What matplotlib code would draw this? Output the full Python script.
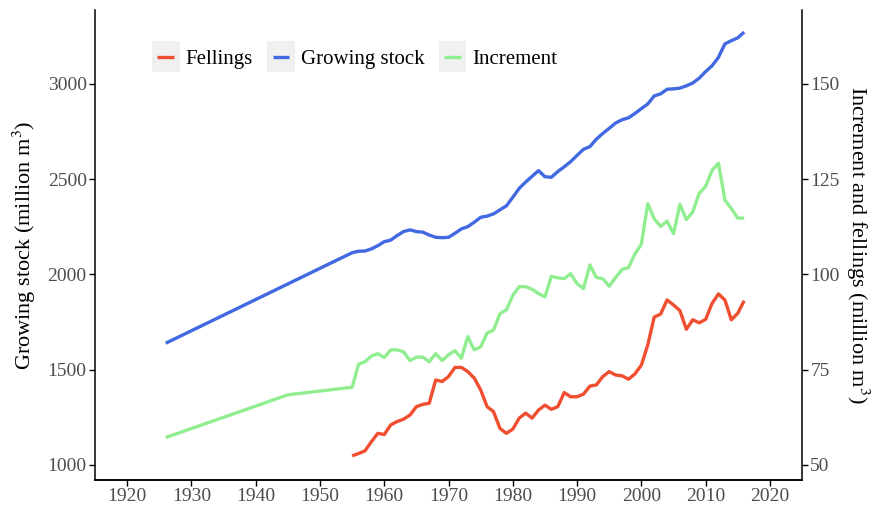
import matplotlib
matplotlib.use("Agg")
import matplotlib.pyplot as plt
from matplotlib.legend_handler import HandlerLine2D
from matplotlib.patches import Rectangle

plt.rcParams["font.family"] = ["Liberation Serif", "DejaVu Serif"]
plt.rcParams["mathtext.fontset"] = "stix"

# Growing stock (million m3), left axis
stock_years = [1926, 1955, 1956, 1957, 1958, 1959, 1960, 1961, 1962, 1963, 1964,
               1965, 1966, 1967, 1968, 1969, 1970, 1971, 1972, 1973, 1974, 1975,
               1976, 1977, 1978, 1979, 1980, 1981, 1982, 1983, 1984, 1985, 1986,
               1987, 1988, 1989, 1990, 1991, 1992, 1993, 1994, 1995, 1996, 1997,
               1998, 1999, 2000, 2001, 2002, 2003, 2004, 2005, 2006, 2007, 2008,
               2009, 2010, 2011, 2012, 2013, 2014, 2015, 2016]
stock = [1639, 2114, 2122, 2123, 2134, 2151, 2172, 2180, 2204, 2225, 2234,
         2225, 2222, 2207, 2195, 2193, 2195, 2216, 2239, 2251, 2274, 2300,
         2306, 2318, 2339, 2360, 2405, 2452, 2485, 2515, 2545, 2513, 2510,
         2540, 2565, 2592, 2625, 2657, 2671, 2710, 2740, 2767, 2795, 2812,
         2822, 2845, 2870, 2895, 2937, 2948, 2972, 2974, 2978, 2990, 3005,
         3030, 3065, 3095, 3140, 3210, 3227, 3242, 3272]

# Increment (million m3), right axis
incr_years = [1926, 1945, 1955, 1956, 1957, 1958, 1959, 1960, 1961, 1962, 1963,
              1964, 1965, 1966, 1967, 1968, 1969, 1970, 1971, 1972, 1973, 1974,
              1975, 1976, 1977, 1978, 1979, 1980, 1981, 1982, 1983, 1984, 1985,
              1986, 1987, 1988, 1989, 1990, 1991, 1992, 1993, 1994, 1995, 1996,
              1997, 1998, 1999, 2000, 2001, 2002, 2003, 2004, 2005, 2006, 2007,
              2008, 2009, 2010, 2011, 2012, 2013, 2014, 2015, 2016]
increment = [57.2, 68.4, 70.4, 76.4, 77.1, 78.6, 79.2, 78.2, 80.2, 80.2, 79.7,
             77.4, 78.3, 78.3, 77.1, 79.2, 77.4, 78.9, 80.0, 78.0, 83.7, 80.2,
             81.0, 84.6, 85.4, 89.7, 90.7, 94.5, 96.8, 96.8, 96.1, 95.0, 94.1,
             99.5, 99.1, 98.9, 100.2, 97.6, 96.3, 102.5, 99.2, 98.9, 96.9, 99.2,
             101.3, 101.8, 105.4, 107.9, 118.6, 114.6, 112.6, 114.0, 110.7, 118.4, 114.4,
             116.4, 121.3, 123.1, 127.3, 129.2, 119.5, 117.3, 114.8, 114.8]

# Fellings (million m3), right axis
fell_years = list(range(1955, 2017))
fellings = [52.4, 53.0, 53.7, 56.1, 58.3, 58.0, 60.5, 61.4, 62.0, 63.1,
            65.3, 65.9, 66.2, 72.3, 71.9, 73.2, 75.6, 75.6, 74.5, 72.8,
            69.7, 65.3, 64.0, 59.6, 58.3, 59.4, 62.3, 63.6, 62.3, 64.4,
            65.7, 64.6, 65.3, 69.0, 67.9, 67.9, 68.6, 70.7, 71.0, 73.2,
            74.5, 73.6, 73.4, 72.5, 73.9, 76.2, 81.5, 88.8, 89.6, 93.3,
            92.0, 90.5, 85.6, 88.1, 87.3, 88.2, 92.4, 94.9, 93.3, 88.1,
            89.8, 93.1]

red = "#F04E30"
blue = "#4169E1"
green = "#90EE90"


class KeyHandler(HandlerLine2D):
    # ggplot-like legend key: grey box behind the line
    def create_artists(self, legend, orig_handle, xdescent, ydescent,
                       width, height, fontsize, trans):
        box = Rectangle((-xdescent - 4, -ydescent - 6), width + 8, height + 12,
                        facecolor="#F0F0F0", edgecolor="none", transform=trans)
        artists = super().create_artists(legend, orig_handle, xdescent, ydescent,
                                         width, height, fontsize, trans)
        return [box] + artists


fig = plt.figure(figsize=(8.75, 5.08), dpi=100)
ax = fig.add_axes([0.1086, 0.0551, 0.8080, 0.9252])
ax2 = ax.twinx()

l_stock, = ax.plot(stock_years, stock, color=blue, lw=2.4, solid_capstyle="butt")
l_inc, = ax2.plot(incr_years, increment, color=green, lw=2.4, solid_capstyle="butt")
l_fell, = ax2.plot(fell_years, fellings, color=red, lw=2.4, solid_capstyle="butt")

ax.set_xlim(1915, 2025)
ax.set_ylim(921, 3388)
ax2.set_ylim(921 / 20, 3388 / 20)
ax.set_xticks(range(1920, 2021, 10))
ax.set_yticks(range(1000, 3001, 500))
ax2.set_yticks(range(50, 151, 25))

for a in (ax, ax2):
    for s in a.spines.values():
        s.set_linewidth(1.1)
    a.spines["top"].set_visible(False)
    a.tick_params(length=4, width=1.0, labelsize=14, labelcolor="#4D4D4D", pad=2)
ax.spines["right"].set_visible(False)
ax2.spines["left"].set_visible(False)

ax.set_ylabel("Growing stock (million m$^3$)", fontsize=16, labelpad=7)
ax2.set_ylabel("Increment and fellings (million m$^3$)", fontsize=16,
               rotation=270, labelpad=23)

ax.legend([l_fell, l_stock, l_inc], ["Fellings", "Growing stock", "Increment"],
          handler_map={matplotlib.lines.Line2D: KeyHandler()},
          loc="center left", bbox_to_anchor=(147 / 875, 1 - 59 / 508),
          bbox_transform=fig.transFigure, ncol=3, frameon=False,
          fontsize=15, handlelength=0.8, handletextpad=0.55, columnspacing=0.95,
          borderpad=0)

fig.savefig("out.png", dpi=100)
